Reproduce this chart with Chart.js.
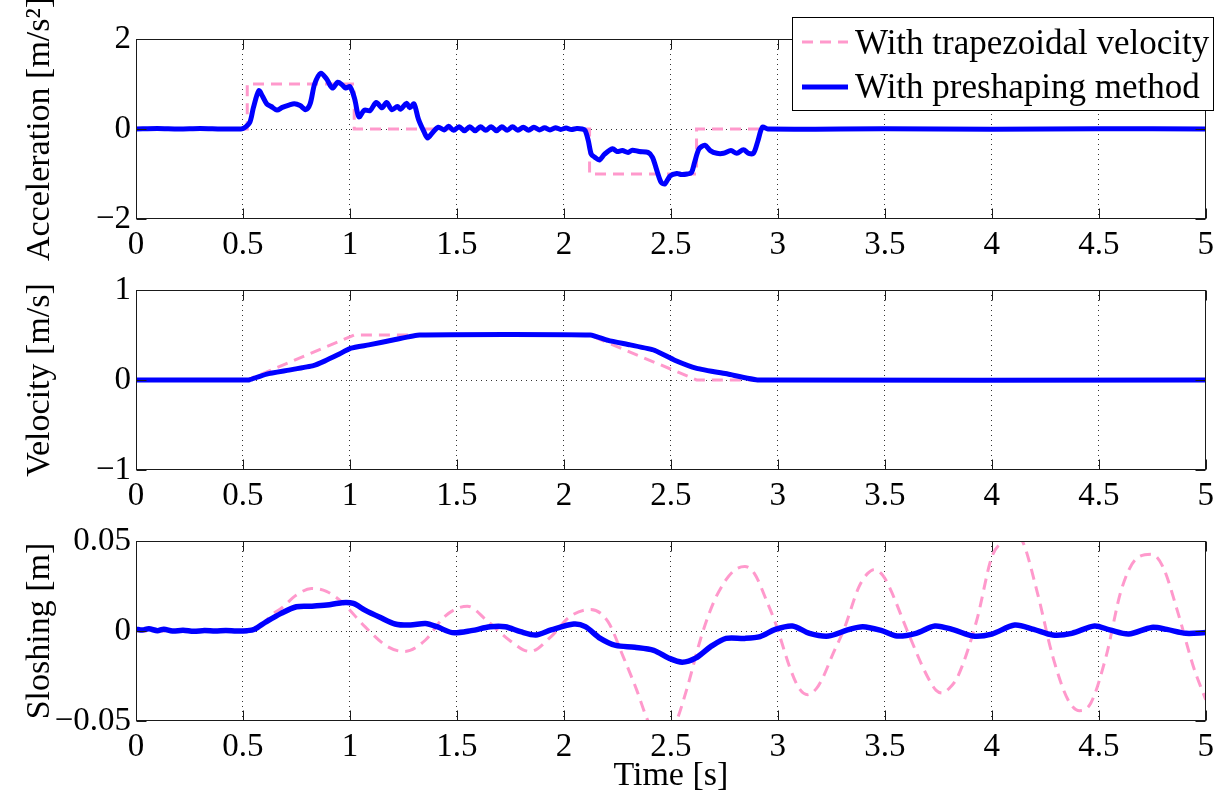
<!DOCTYPE html>
<html><head><meta charset="utf-8">
<script src="https://cdn.jsdelivr.net/npm/chart.js@4.4.1/dist/chart.umd.min.js"></script>
<style>
html,body{margin:0;padding:0;background:#fff;}
body{width:1224px;height:793px;overflow:hidden;position:relative;}
canvas{position:absolute;left:0;display:block;}
</style></head>
<body>
<canvas id="c1" width="1224" height="262" style="top:0px"></canvas>
<canvas id="c2" width="1224" height="250" style="top:262px"></canvas>
<canvas id="c3" width="1224" height="281" style="top:512px"></canvas>
<script>
// ---------- data ----------
const seriesLabels = ['With trapezoidal velocity', 'With preshaping method'];
const xTickLabels = ['0','0.5','1','1.5','2','2.5','3','3.5','4','4.5','5'];
const accYTickLabels = ['\u22122','0','2'];
const velYTickLabels = ['\u22121','0','1'];
const sloshYTickLabels = ['\u22120.05','0','0.05'];
const yTitles = ['Acceleration [m/s\u00B2]', 'Velocity [m/s]', 'Sloshing [m]'];
const xTitle = 'Time [s]';

const accTrapTime = [0,0.52,0.52,1.02,1.02,2.12,2.12,2.62,2.62,5];
const accTrapezoid = [0,0,1,1,0,0,-1,-1,0,0];
const accTime = [0,0.1,0.2,0.3,0.4,0.49,0.505,0.532,0.549,0.574,
 0.59,0.611,0.632,0.659,0.684,0.715,0.74,0.767,0.794,0.814,
 0.835,0.864,0.891,0.918,0.943,0.964,0.98,1.0,1.022,1.042,
 1.067,1.094,1.123,1.15,1.171,1.196,1.222,1.237,1.264,1.28,
 1.299,1.32,1.347,1.363,1.388,1.413,1.44,1.461,1.485,1.51,
 1.535,1.56,1.585,1.61,1.635,1.66,1.685,1.71,1.735,1.76,
 1.785,1.81,1.835,1.86,1.885,1.91,1.935,1.96,1.985,2.01,
 2.035,2.06,2.085,2.099,2.114,2.128,2.145,2.166,2.19,2.228,
 2.248,2.273,2.3,2.32,2.352,2.393,2.414,2.435,2.455,2.472,
 2.497,2.528,2.549,2.576,2.596,2.611,2.632,2.659,2.684,2.715,
 2.746,2.781,2.808,2.839,2.864,2.886,2.907,2.928,2.953,3.5,
 4,4.5,5];
const accPreshape = [0,0.01,0,0.01,0,0,0.02,0.15,0.48,0.85,
 0.74,0.56,0.50,0.42,0.48,0.53,0.56,0.52,0.43,0.56,
 1.0,1.24,1.11,0.91,1.04,0.98,0.91,0.94,0.67,0.27,
 0.42,0.41,0.59,0.47,0.59,0.43,0.50,0.44,0.57,0.47,
 0.56,0.22,-0.07,-0.2,-0.07,0.04,-0.02,0.06,-0.03,0.05,
 -0.04,0.05,-0.04,0.05,-0.03,0.05,-0.04,0.05,-0.03,0.05,
 -0.03,0.04,-0.03,0.04,-0.02,0.03,-0.02,0.03,-0.01,0.02,
 -0.01,0.01,0,-0.03,-0.26,-0.56,-0.63,-0.69,-0.56,-0.44,
 -0.50,-0.48,-0.52,-0.47,-0.50,-0.52,-0.63,-0.93,-1.19,-1.22,
 -1.04,-0.99,-1.01,-1.0,-0.97,-0.74,-0.44,-0.36,-0.48,-0.54,
 -0.54,-0.48,-0.54,-0.46,-0.54,-0.54,-0.26,0.04,0,0.005,
 -0.005,0.005,0];

const velTrapTime = [0,0.52,1.02,2.12,2.62,5];
const velTrapezoid = [0,0,0.5,0.5,0,0];
const velTime = [0,0.52,0.53,0.611,0.715,0.829,0.881,0.943,1.005,1.088,1.212,1.326,2.124,2.207,2.31,2.424,2.518,2.621,2.766,2.911,5];
const velPreshape = [0,0,0.002,0.066,0.11,0.16,0.21,0.28,0.354,0.39,0.45,0.50,0.50,0.44,0.39,0.33,0.22,0.13,0.066,0,0];

const sloshTrapTime = [0,0.5,0.55,0.6,0.643,0.678,0.75,0.82,0.89,0.963,
 1.07,1.176,1.256,1.353,1.442,1.549,1.638,1.744,1.842,1.94,
 2.028,2.126,2.206,2.277,2.34,2.393,2.43,2.465,2.5,2.527,
 2.58,2.64,2.7,2.758,2.8,2.846,2.89,2.95,2.99,3.06,
 3.1,3.139,3.18,3.21,3.26,3.308,3.379,3.42,3.45,3.49,
 3.521,3.61,3.699,3.74,3.77,3.80,3.841,3.93,4.0,4.054,
 4.1,4.143,4.214,4.285,4.356,4.41,4.463,4.534,4.605,4.676,
 4.747,4.8,4.871,4.942,5.0];
const sloshTrapezoid = [0,0,0.001,0.005,0.0098,0.0125,0.02,0.0236,0.022,0.016,
 0.0024,-0.0087,-0.0114,-0.005,0.008,0.0138,0.006,-0.005,-0.0114,-0.0031,
 0.008,0.012,0.0052,-0.0142,-0.0327,-0.05,-0.057,-0.059,-0.057,-0.05,
 -0.03,-0.004,0.016,0.0285,0.034,0.0358,0.032,0.016,0.004,-0.0216,
 -0.032,-0.0354,-0.032,-0.026,-0.012,0.0006,0.0245,0.032,0.0341,0.031,
 0.0245,-0.0013,-0.0253,-0.033,-0.0345,-0.032,-0.0253,0.0061,0.0411,0.05,
 0.054,0.05,0.0208,-0.0142,-0.0382,-0.0443,-0.04,-0.0142,0.0227,0.0402,
 0.0426,0.0356,0.0098,-0.0197,-0.0382];
const sloshTime = [0,0.03,0.06,0.1,0.13,0.17,0.22,0.27,0.32,0.37,
 0.42,0.47,0.52,0.554,0.607,0.678,0.75,0.82,0.892,0.963,
 1.016,1.07,1.14,1.211,1.282,1.353,1.407,1.478,1.567,1.655,
 1.726,1.797,1.869,1.94,2.046,2.1,2.17,2.242,2.331,2.42,
 2.491,2.553,2.615,2.686,2.758,2.846,2.917,2.988,3.068,3.148,
 3.237,3.326,3.397,3.486,3.557,3.646,3.734,3.823,3.912,4.0,
 4.107,4.196,4.285,4.374,4.48,4.551,4.64,4.747,4.818,4.907,
 5.0];
const sloshPreshape = [0.001,0.0005,0.0012,0.0002,0.001,0,0.0004,-0.0002,0.0003,0,
 0.0003,0,0.0002,0.001,0.005,0.0098,0.0135,0.0138,0.0144,0.0157,
 0.0153,0.0116,0.0076,0.0039,0.0033,0.0042,0.0024,-0.0009,0.0002,0.0024,
 0.0024,-0.0004,-0.0022,0.0006,0.0039,0.0024,-0.0041,-0.008,-0.009,-0.0107,
 -0.0151,-0.0173,-0.0151,-0.0087,-0.0041,-0.0041,-0.0031,0.0009,0.0028,-0.0013,
 -0.0028,0.0006,0.0024,0.0002,-0.0028,-0.0013,0.0028,0.0006,-0.0028,-0.0017,
 0.0033,0.0009,-0.0022,-0.0013,0.0028,0.0006,-0.0017,0.002,0.0009,-0.0013,
 -0.0009];

// ---------- styling ----------
const FONT = "'Liberation Serif','Times New Roman',serif";
const PINK = '#ff99cc';
const BLUE = '#0000ff';
const pts = (xs, ys) => xs.map((x, i) => ({x, y: ys[i]}));

const frame = {
  id: 'frame',
  afterDatasetsDraw(chart) {
    const {ctx, chartArea: a, scales: {x, y}} = chart;
    ctx.save();
    ctx.strokeStyle = '#1a1a1a'; ctx.lineWidth = 1; ctx.setLineDash([]);
    const L = Math.round(a.left) + 0.5, R = Math.round(a.right) - 0.5;
    const T = Math.round(a.top) + 0.5, B = Math.round(a.bottom) - 0.5;
    ctx.strokeRect(L, T, R - L, B - T);
    ctx.beginPath();
    x.ticks.forEach(t => {
      const px = Math.round(x.getPixelForValue(t.value)) + 0.5;
      ctx.moveTo(px, B); ctx.lineTo(px, B - 10);
      ctx.moveTo(px, T); ctx.lineTo(px, T + 10);
    });
    y.ticks.forEach(t => {
      const py = Math.round(y.getPixelForValue(t.value)) + 0.5;
      ctx.moveTo(L, py); ctx.lineTo(L + 10, py);
      ctx.moveTo(R, py); ctx.lineTo(R - 10, py);
    });
    ctx.stroke();
    ctx.restore();
  }
};

const yTitle = {
  id: 'yTitle',
  afterDraw(chart, args, o) {
    const {ctx, chartArea: a} = chart;
    ctx.save();
    ctx.translate(o.x, (a.top + a.bottom) / 2 + (o.dy || 0));
    ctx.rotate(-Math.PI / 2);
    ctx.font = o.size + 'px ' + FONT;
    ctx.fillStyle = '#000';
    ctx.textAlign = 'center';
    ctx.textBaseline = 'middle';
    ctx.fillText(o.text, 0, 0);
    ctx.restore();
  }
};

const legendBox = {
  id: 'legendBox',
  afterDraw(chart, args, o) {
    if (!o.show) return;
    const ctx = chart.ctx;
    ctx.save();
    ctx.fillStyle = '#fff';
    ctx.fillRect(o.left, o.top, o.right - o.left, o.bottom - o.top);
    ctx.strokeStyle = '#000'; ctx.lineWidth = 1;
    ctx.strokeRect(o.left + 0.5, o.top + 0.5, o.right - o.left - 1, o.bottom - o.top - 1);
    chart.data.datasets.forEach((ds, i) => {
      const yy = o.rowY[i];
      ctx.strokeStyle = ds.borderColor; ctx.lineWidth = ds.borderWidth;
      ctx.setLineDash(ds.borderDash || []);
      ctx.beginPath(); ctx.moveTo(o.x0, yy); ctx.lineTo(o.x1, yy); ctx.stroke();
      ctx.setLineDash([]);
      ctx.fillStyle = '#000';
      ctx.font = o.size + 'px ' + FONT;
      ctx.textAlign = 'left'; ctx.textBaseline = 'alphabetic';
      ctx.fillText(ds.label, o.tx, o.baseY[i]);
    });
    ctx.restore();
  }
};

function makeChart(id, trapX, trapY, preX, preY, trapTension, preTension, blueWidth, ymin, ymax, ystep, yLabels, title, padTop, xAxisH, withXTitle, withLegend) {
  const gridColor = ctx => {
    const s = ctx.scale, v = ctx.tick ? ctx.tick.value : null;
    if (v === null) return 'rgba(0,0,0,0)';
    if (Math.abs(v - s.min) < 1e-9 || Math.abs(v - s.max) < 1e-9) return 'rgba(0,0,0,0)';
    return '#333';
  };
  return new Chart(document.getElementById(id), {
    type: 'line',
    data: {
      datasets: [
        {label: seriesLabels[0], data: pts(trapX, trapY), borderColor: PINK, borderWidth: 3, borderDash: [11, 7],
         tension: trapTension, cubicInterpolationMode: trapTension ? 'monotone' : 'default', pointRadius: 0, fill: false, order: 1, clip: 0},
        {label: seriesLabels[1], data: pts(preX, preY), borderColor: BLUE, borderWidth: blueWidth,
         tension: preTension, pointRadius: 0, fill: false, order: 0, clip: 0, borderJoinStyle: 'round', borderCapStyle: 'round'}
      ]
    },
    options: {
      responsive: false, animation: false, devicePixelRatio: 1,
      layout: {padding: {left: 0, right: 10, top: padTop, bottom: 0}, autoPadding: false},
      plugins: {
        legend: {display: false}, tooltip: {enabled: false},
        yTitle: {text: title, x: 40, size: 34},
        legendBox: {show: withLegend, left: 792, top: 17, right: 1214, bottom: 111, x0: 802, x1: 848, tx: 855,
                    rowY: [42, 87], baseY: [54, 98], size: 35}
      },
      scales: {
        x: {
          type: 'linear', min: 0, max: 5,
          afterFit: s => { s.height = xAxisH; },
          ticks: {stepSize: 0.5, autoSkip: false, maxRotation: 0, padding: 10, color: '#000',
                  font: {family: FONT, size: 33, lineHeight: 1}, callback: (v, i) => xTickLabels[i]},
          grid: {drawTicks: false, color: gridColor, lineWidth: 1},
          border: {display: false, dash: [1, 4]},
          title: {display: withXTitle, text: xTitle, color: '#000', padding: 0,
                  font: {family: FONT, size: 34, lineHeight: 1}}
        },
        y: {
          type: 'linear', min: ymin, max: ymax,
          afterFit: s => { s.width = 136; },
          ticks: {stepSize: ystep, padding: 5, color: '#000',
                  font: {family: FONT, size: 33, lineHeight: 1}, callback: (v, i) => yLabels[i]},
          grid: {drawTicks: false, color: gridColor, lineWidth: 1},
          border: {display: false, dash: [1, 4]}
        }
      }
    },
    plugins: [frame, yTitle, legendBox]
  });
}

makeChart('c1', accTrapTime, accTrapezoid, accTime, accPreshape, 0, 0.3, 5, -2, 2, 2, accYTickLabels, yTitles[0], 39, 43, false, true);
makeChart('c2', velTrapTime, velTrapezoid, velTime, velPreshape, 0, 0.15, 5, -1, 1, 1, velYTickLabels, yTitles[1], 28, 42, false, false);
makeChart('c3', sloshTrapTime, sloshTrapezoid, sloshTime, sloshPreshape, 0.4, 0.3, 5.5, -0.05, 0.05, 0.05, sloshYTickLabels, yTitles[2], 29, 72, true, false);
</script>
</body></html>
